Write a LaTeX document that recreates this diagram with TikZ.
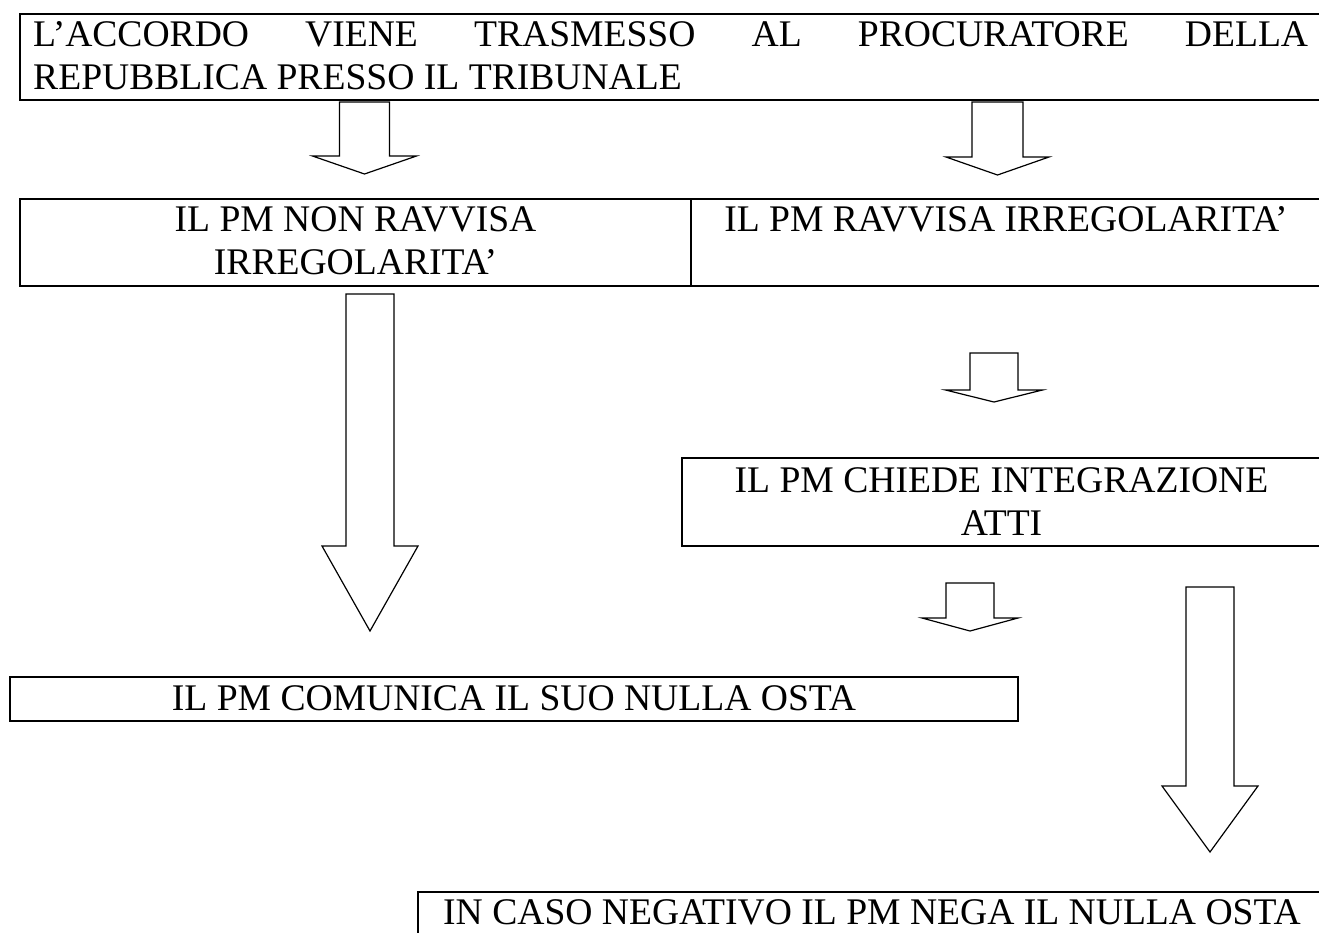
\documentclass[tikz,border=0pt]{standalone}
\usepackage{fontspec}
\setmainfont{Liberation Serif}
\usetikzlibrary{positioning,calc}

\begin{document}
\begin{tikzpicture}
	[x=1pt, y=-1pt,
	box/.style={rectangle,draw=black,line width=2pt,inner sep=0pt,outer sep=0pt},
	txt/.style={inner sep=0pt,font=\fontsize{37.6}{43}\selectfont},
	blockarrow/.style n args={3}{draw=black,fill=white,line width=1.2pt,
		to path={let \p1=(\tikztostart), \p2=(\tikztotarget) in
		(\x2-#1,\y1) -- (\x2+#1,\y1) -- (\x2+#1,\y2+#3) -- (\x2+#2,\y2+#3)
		-- (\x2,\y2) -- (\x2-#2,\y2+#3) -- (\x2-#1,\y2+#3) -- cycle}}]
	\useasboundingbox (0,0) rectangle (1319,932);
	\clip (0,0) rectangle (1319,932);

	% boxes
	\node [box, minimum width=1301pt, minimum height=86pt] (accordo) at (670.5,57) {};
	\node [box, minimum width=671pt, minimum height=87pt] (nonravv) at (355.5,242.5) {};
	\node [box, minimum width=630pt, minimum height=87pt] (ravv) [right=0pt of nonravv] {};
	\node [box, minimum width=639pt, minimum height=88pt] (chiede) at (1001.5,502) {};
	\node [box, minimum width=1008pt, minimum height=44pt] (comunica) at (514,699) {};
	\node [box, minimum width=903pt, minimum height=48pt] (negativo) at (869.5,916) {};

	% texts
	\node [txt, text width=1275pt, align=justify, anchor=north west] (accordotxt)
		at ([xshift=13pt,yshift=-7.6pt]accordo.north west)
		{L'ACCORDO VIENE TRASMESSO AL PROCURATORE DELLA\linebreak REPUBBLICA PRESSO IL TRIBUNALE};
	\node [txt, align=center] (nonravvtxt) [below=7.6pt of nonravv.north] {IL PM NON RAVVISA\\IRREGOLARITA'};
	\node [txt] (ravvtxt) [below=7.6pt of ravv.north] {IL PM RAVVISA IRREGOLARITA'};
	\node [txt, align=center] (chiedetxt) [below=9.6pt of chiede.north] {IL PM CHIEDE INTEGRAZIONE\\ATTI};
	\node [txt] (comunicatxt) [below=8.6pt of comunica.north] {IL PM COMUNICA IL SUO NULLA OSTA};
	\node [txt, anchor=north west] (negativotxt)
		at ([xshift=25pt,yshift=-7.6pt]negativo.north west) {IN CASO NEGATIVO IL PM NEGA IL NULLA OSTA};

	% block arrows
	\coordinate (f1s) at (364.5,102);
	\coordinate (f1e) at (364.5,174);
	\coordinate (f2s) at (997.5,102);
	\coordinate (f2e) at (997.5,175);
	\coordinate (f3s) at (370,294);
	\coordinate (f3e) at (370,631);
	\coordinate (f4s) at (994,353);
	\coordinate (f4e) at (994,402);
	\coordinate (f5s) at (970,583);
	\coordinate (f5e) at (970,631);
	\coordinate (f6s) at (1210,587);
	\coordinate (f6e) at (1210,852);

	\draw [blockarrow={25pt}{52pt}{18pt}] (f1s) to (f1e);
	\draw [blockarrow={25.5pt}{51.5pt}{18pt}] (f2s) to (f2e);
	\draw [blockarrow={24pt}{48pt}{85pt}] (f3s) to (f3e);
	\draw [blockarrow={24pt}{48.5pt}{12pt}] (f4s) to (f4e);
	\draw [blockarrow={24pt}{48pt}{13pt}] (f5s) to (f5e);
	\draw [blockarrow={24pt}{48pt}{66pt}] (f6s) to (f6e);

\end{tikzpicture}
\end{document}
